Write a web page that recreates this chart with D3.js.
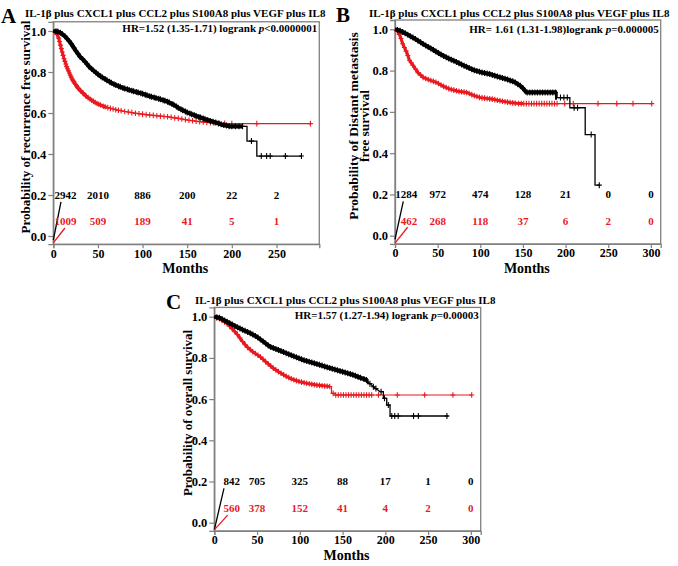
<!DOCTYPE html>
<html><head><meta charset="utf-8">
<script src="https://cdn.jsdelivr.net/npm/d3@7"></script>
<style>
body{margin:0;background:#fff}
svg text{font-family:"Liberation Serif","Times New Roman",serif;font-weight:bold;fill:#000}
</style>
</head><body><svg id="c" width="678" height="566"></svg>
<script>
// ---------------- data ----------------
const TITLE = "IL-1β plus CXCL1 plus CCL2 plus S100A8 plus VEGF plus IL8";
const yTicks = [0, 0.2, 0.4, 0.6, 0.8, 1.0];
const xTicksA = [0, 50, 100, 150, 200, 250];
const xTicksBC = [0, 50, 100, 150, 200, 250, 300];

const riskBlackA = [2942, 2010, 886, 200, 22, 2];
const riskRedA = [1009, 509, 189, 41, 5, 1];
const riskBlackB = [1284, 972, 474, 128, 21, 0, 0];
const riskRedB = [462, 268, 118, 37, 6, 2, 0];
const riskBlackC = [842, 705, 325, 88, 17, 1, 0];
const riskRedC = [560, 378, 152, 41, 4, 2, 0];

// survival curves: [month, probability]
const survBlackA = [[0,1],[5,0.997],[9,0.989],[14,0.97],[19,0.945],[25,0.905],[30,0.875],[36,0.848],[41,0.822],[47,0.8],[52,0.782],[60,0.76],[67,0.742],[78,0.722],[90,0.706],[100,0.694],[108,0.682],[118,0.67],[127,0.657],[135,0.64],[142,0.62],[150,0.603],[161,0.584],[172,0.567],[183,0.552],[190,0.542],[198,0.535],[217,0.535],[217,0.463],[228,0.463],[228,0.39],[278,0.39]];
const survRedA = [[0,1],[3,0.99],[5.6,0.972],[7.5,0.94],[9.4,0.907],[12,0.865],[15,0.826],[18,0.795],[20.6,0.769],[24,0.745],[28,0.72],[33,0.698],[37.4,0.68],[43,0.662],[48.6,0.647],[56,0.633],[63.6,0.623],[72,0.614],[82,0.606],[95,0.597],[108,0.59],[127,0.582],[140,0.574],[150,0.566],[160,0.56],[172,0.554],[185,0.55],[202,0.548],[288,0.548]];
const survBlackB = [[0,1],[6,0.993],[13.7,0.977],[23,0.955],[33,0.929],[43,0.905],[53,0.88],[62,0.86],[72,0.842],[82,0.822],[92,0.803],[101,0.792],[111,0.783],[121,0.77],[131,0.758],[140,0.745],[147,0.726],[151,0.71],[154,0.694],[190,0.694],[190,0.669],[205,0.669],[205,0.62],[223,0.62],[223,0.49],[234.5,0.49],[234.5,0.245],[239.5,0.245]];
const survRedB = [[0,1],[3,0.99],[5.9,0.969],[9,0.93],[13.7,0.888],[17,0.85],[21.5,0.823],[27,0.79],[33,0.767],[40,0.755],[49,0.742],[56,0.725],[64.5,0.71],[74,0.7],[84,0.694],[92,0.68],[100,0.669],[115,0.661],[125,0.652],[135,0.645],[145,0.64],[301,0.64]];
const survBlackC = [[0,1],[6,0.995],[14.5,0.976],[24,0.955],[34,0.935],[42,0.92],[49.6,0.903],[57,0.88],[65,0.854],[75,0.838],[84.7,0.822],[94,0.806],[104,0.79],[114,0.778],[123.6,0.766],[133,0.753],[143,0.741],[153,0.729],[162.6,0.717],[170,0.705],[178,0.693],[182,0.675],[186,0.66],[190,0.648],[194,0.636],[197.7,0.636],[197.7,0.604],[201.6,0.604],[201.6,0.571],[205.5,0.571],[205.5,0.518],[274,0.518]];
const survRedC = [[0,1],[6,0.99],[14.5,0.968],[20,0.945],[26,0.919],[32,0.885],[38,0.854],[45,0.83],[53.5,0.806],[61,0.778],[69,0.75],[77,0.728],[84.7,0.709],[92,0.695],[100,0.684],[110,0.675],[119.8,0.668],[137,0.66],[137,0.628],[141,0.628],[141,0.62],[301,0.62]];

// censoring times (months)
const censBlackA = [3,5,8,10,13,15,18,20,23,25,28,30,33,35,38,40,43,45,48,50,53,55,58,60,63,65,68,70,73,75,78,80,83,85,88,90,93,95,98,100,103,105,108,110,113,115,118,120,123,125,128,130,133,135,138,140,143,145,148,150,153,155,158,160,163,165,168,170,173,176,179,182,185,188,191,194,197,200,204,208,212,222,233,239,243,260,278];
const censRedA = [4,6,7,8,9,10,11,12,13,14,15,16,17,18,19,20,21,22,23,24,25,26,27,28,30,31,33,34,36,37,39,41,43,45,47,49,51,53,56,58,61,64,67,70,73,76,80,84,88,92,96,100,104,108,112,116,120,124,128,132,136,140,144,148,152,156,160,164,168,172,176,180,186,192,200,228,288];
const censBlackB = [3,6,9,12,15,18,21,24,27,30,33,36,39,42,45,48,51,54,57,60,63,66,69,72,75,78,81,84,87,90,93,96,99,102,105,108,111,114,117,120,123,126,129,132,135,138,141,144,147,150,155,158,161,164,167,170,173,176,179,182,185,188,194,198,202,210,214,230,239.5];
const censRedB = [3,5,7,9,11,13,15,17,19,21,24,27,30,33,36,39,42,45,48,51,54,57,60,63,66,69,72,75,78,81,84,87,90,93,96,99,102,105,108,111,114,117,120,123,126,129,132,135,138,141,145,148,151,154,157,160,163,166,169,172,175,178,181,184,187,190,199,209,238,260,279,301];
const censBlackC = [3,6,9,12,15,18,21,24,27,30,33,36,39,42,45,48,51,54,57,60,63,66,69,72,75,78,81,84,87,90,93,96,99,102,105,108,111,114,117,120,123,126,129,132,135,138,141,144,147,150,153,156,159,162,165,168,171,175,178,182,186,189,195,199,203.5,207.5,211,215,233,238.6,272];
const censRedC = [3,6,9,12,15,18,21,24,27,30,33,36,39,42,45,48,51,54,57,60,63,66,69,72,75,78,81,84,87,90,93,96,99,102,105,108,111,114,117,120,123,126,129,132,135,139,142,145,148,151,154,157,160,163,166,169,172,175,178,181,184,192,214,246,279,301];

// month up to which the censor marks form a solid band
const denseBlack = {A: 212, B: 190, C: 180};
const denseRed = {A: 60, B: 150, C: 135};

// leader lines at the origin: [month, probability]
const leadBlackA = [[0,-0.02],[8.6,0.167]], leadRedA = [[0,-0.034],[13,0.039]];
const leadBlackB = [[0,-0.018],[9.7,0.166]], leadRedB = [[0,-0.036],[14.8,0.041]];
const leadBlackC = [[0,-0.035],[11.3,0.167]], leadRedC = [[0,-0.035],[15.6,0.037]];

// ---------------- layout ----------------
const RED = "#e8191f", AXIS = "#808080";
const panels = [
  {letter:"A", lx:1, ly:23, tx:25, ty:17, x0:53.3, x1:319.3, yb:236, yt:31, xmax:298, xTicks:xTicksA,
   hr:["HR=1.52 (1.35-1.71) logrank ","p","<0.0000001"], hry:32,
   ylab:["Probability of recurrence free survival"], ylx:[25.5], yly:127, ylfs:13,
   rb:riskBlackA, rr:riskRedA, firstEnd:26, sb:survBlackA, sr:survRedA, cb:censBlackA, cr:censRedA, lb:leadBlackA, lr:leadRedA},
  {letter:"B", lx:336, ly:22, tx:369, ty:16.5, x0:395, x1:660.7, yb:235.7, yt:29.3, xmax:311.5, xTicks:xTicksBC,
   hr:["HR= 1.61 (1.31-1.98)logrank ","p","=0.000005"], hry:33,
   ylab:["Probability of Distant metastasis","free survival"], ylx:[353.5,364.5], yly:126, ylfs:13.5,
   rb:riskBlackB, rr:riskRedB, firstEnd:26, sb:survBlackB, sr:survRedB, cb:censBlackB, cr:censRedB, lb:leadBlackB, lr:leadRedB},
  {letter:"C", lx:166, ly:309, tx:195, ty:304, x0:214.3, x1:480.7, yb:522.7, yt:316.7, xmax:311.5, xTicks:xTicksBC,
   hr:["HR=1.57 (1.27-1.94) logrank ","p","=0.00003"], hry:319,
   ylab:["Probability of overall survival"], ylx:[187.5], yly:413, ylfs:13,
   rb:riskBlackC, rr:riskRedC, firstEnd:30, sb:survBlackC, sr:survRedC, cb:censBlackC, cr:censRedC, lb:leadBlackC, lr:leadRedC}
];

const svg = d3.select("#c");
const defs = svg.append("defs");

function yAt(pts, t){
  for (let i=0;i<pts.length-1;i++){
    const a=pts[i], b=pts[i+1];
    if (b[0]>a[0] && t>=a[0] && t<=b[0]) return a[1]+(b[1]-a[1])*(t-a[0])/(b[0]-a[0]);
  }
  return pts[pts.length-1][1];
}

panels.forEach(p => {
  const per = (p.yb - p.yt);            // px per 1.0
  const y = d3.scaleLinear().domain([-0.04, 1.045]).range([p.yb + 0.04*per, p.yt - 0.045*per]);
  const x = d3.scaleLinear().domain([0, p.xmax]).range([p.x0, p.x1]);
  const g = svg.append("g");

  // clip paths for the dense bands
  [["blk", denseBlack[p.letter]], ["red", denseRed[p.letter]]].forEach(([k, m]) => {
    defs.append("clipPath").attr("id", `clip-${p.letter}-${k}`).append("rect")
      .attr("x", x(0) - 4).attr("y", y(1.045)).attr("width", x(m) - x(0) + 4).attr("height", y(-0.04) - y(1.045));
  });

  // box
  g.append("rect").attr("x", p.x0).attr("y", y(1.045)).attr("width", p.x1-p.x0).attr("height", y(-0.04)-y(1.045))
    .attr("fill","none").attr("stroke", AXIS).attr("stroke-width",1.3);

  // axes
  const ya = d3.axisLeft(y).tickValues(yTicks).tickFormat(d3.format(".1f")).tickSize(5).tickPadding(2);
  const yg = g.append("g").attr("transform",`translate(${p.x0},0)`).call(ya);
  const xa = d3.axisBottom(x).tickValues(p.xTicks).tickFormat(d3.format("d")).tickSize(4).tickPadding(1);
  const xg = g.append("g").attr("transform",`translate(0,${y(-0.04)})`).call(xa);
  [yg,xg].forEach(a=>{
    a.select(".domain").attr("stroke",AXIS).attr("stroke-width",1.3);
    a.selectAll(".tick line").attr("stroke",AXIS).attr("stroke-width",1.2);
    a.selectAll(".tick text").attr("font-family",'"Liberation Serif",serif').attr("font-weight","bold").attr("fill","#000");
  });
  yg.selectAll(".tick text").attr("font-size",12.5);
  xg.selectAll(".tick text").attr("font-size",12);

  // labels
  svg.append("text").attr("x",p.lx).attr("y",p.ly).attr("font-size",21).text(p.letter);
  svg.append("text").attr("x",p.tx).attr("y",p.ty).attr("font-size",11).text(TITLE);
  const hr = svg.append("text").attr("x",p.x1-2).attr("y",p.hry).attr("font-size",11).attr("text-anchor","end");
  hr.append("tspan").text(p.hr[0]);
  hr.append("tspan").attr("font-style","italic").text(p.hr[1]);
  hr.append("tspan").text(p.hr[2]);
  p.ylab.forEach((t,i)=>{
    svg.append("text").attr("transform",`translate(${p.ylx[i]},${p.yly}) rotate(-90)`)
      .attr("text-anchor","middle").attr("dy","0.35em").attr("font-size",p.ylfs).text(t);
  });
  svg.append("text").attr("x",(p.x0+p.x1)/2 - 1).attr("y",y(-0.04)+29).attr("text-anchor","middle").attr("font-size",14).text("Months");

  // curves
  const line = d3.line().x(d=>x(d[0])).y(d=>y(d[1]));
  const plus = (sel, pts, cens, col, h) => {
    sel.selectAll(null).data(cens).enter().append("path")
      .attr("d", t => { const cx=x(t), cy=y(yAt(pts,t)); return `M${cx-2.5},${cy}H${cx+2.5}M${cx},${cy-h}V${cy+h}`; })
      .attr("stroke", col).attr("stroke-width",1.1).attr("fill","none");
  };
  // red
  g.append("path").attr("d",line(p.sr)).attr("fill","none").attr("stroke",RED).attr("stroke-width",1.2);
  g.append("path").attr("d",line(p.sr)).attr("fill","none").attr("stroke",RED).attr("stroke-width",3)
    .attr("clip-path",`url(#clip-${p.letter}-red)`);
  plus(g, p.sr, p.cr, RED, 2.8);
  // black
  g.append("path").attr("d",line(p.sb)).attr("fill","none").attr("stroke","#000").attr("stroke-width",1.3);
  g.append("path").attr("d",line(p.sb)).attr("fill","none").attr("stroke","#000").attr("stroke-width",4.2)
    .attr("clip-path",`url(#clip-${p.letter}-blk)`);
  plus(g, p.sb, p.cb, "#000", 3);

  // leader lines
  g.append("path").attr("d",line(p.lb)).attr("stroke","#000").attr("stroke-width",1.3).attr("fill","none");
  g.append("path").attr("d",line(p.lr)).attr("stroke",RED).attr("stroke-width",1.3).attr("fill","none");

  // numbers at risk
  const rowY = [0.2, 0.072];
  [[p.rb,"#000"],[p.rr,RED]].forEach(([arr,col],r)=>{
    arr.forEach((v,i)=>{
      const first = i===0;
      svg.append("text").attr("x", first ? x(p.firstEnd) : x(p.xTicks[i]))
        .attr("y", y(rowY[r])).attr("dy","0.35em")
        .attr("text-anchor", first ? "end" : "middle").attr("font-size",11).style("fill",col).text(v);
    });
  });
});
</script>
</body></html>
